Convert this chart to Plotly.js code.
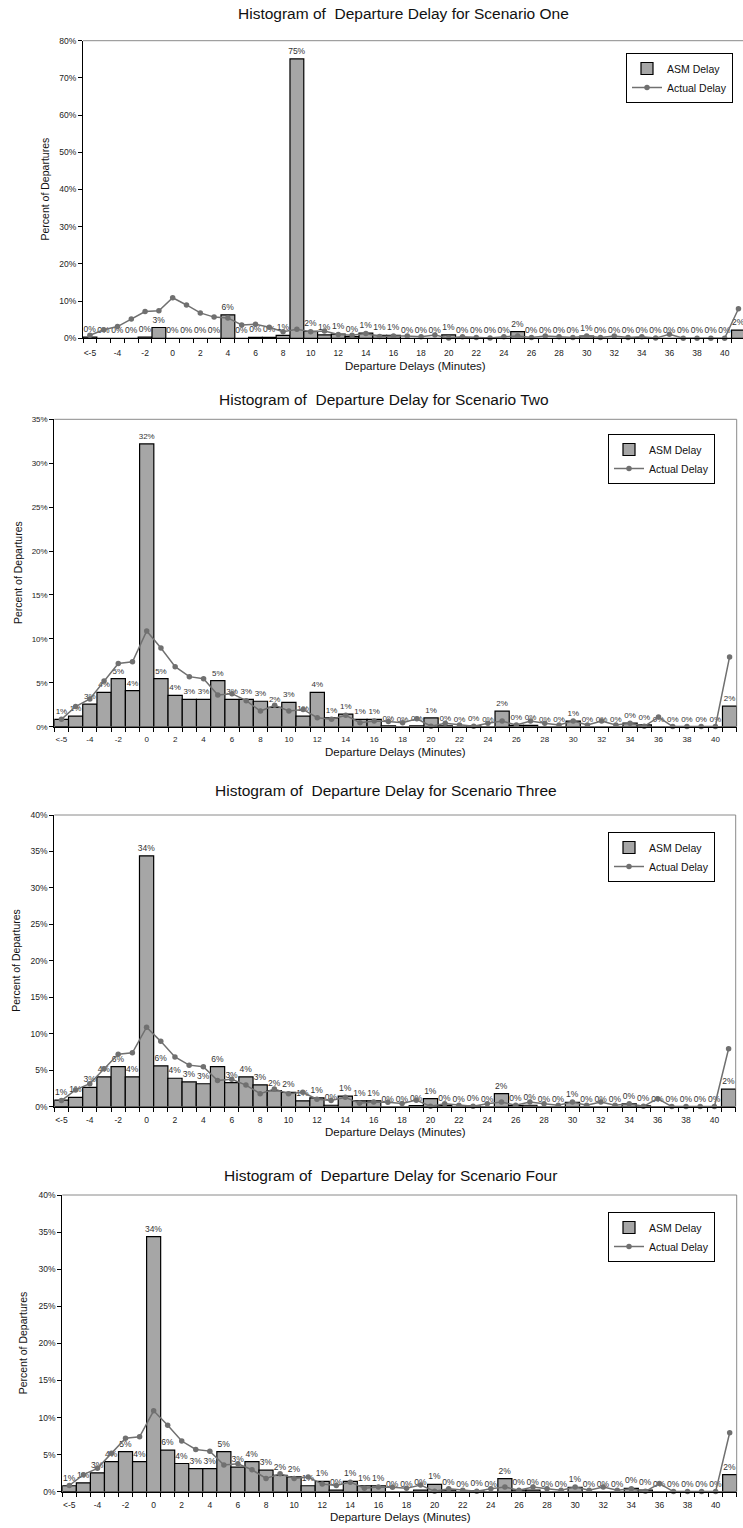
<!DOCTYPE html>
<html>
<head>
<meta charset="utf-8">
<script src="https://cdn.plot.ly/plotly-3.0.1.min.js"></script>
<style>
html,body{margin:0;padding:0;background:#fff;}
#chart{width:743px;height:1528px;}
</style>
</head>
<body>
<div id="chart"></div>
<script>
// ---- Data ----
const categories = ['<-5','-5','-4','-3','-2','-1','0','1','2','3','4','5','6','7','8','9','10',
  '11','12','13','14','15','16','17','18','19','20','21','22','23','24','25','26','27','28','29','30',
  '31','32','33','34','35','36','37','38','39','40','>40'];

const actualDelay = [0.84, 2.3, 3.15, 5.2, 7.2, 7.4, 10.9, 8.96, 6.83, 5.7, 5.47, 3.6, 3.76, 2.96, 1.78, 2.43,
  1.78, 1.97, 1.03, 0.84, 1.29, 0.46, 0.65, 0.6, 0.45, 0.9, 0.05, 0.4, 0.2, 0.05, 0.4, 0.64, 0.2, 0.64,
  0.4, 0.2, 0.64, 0.2, 0.64, 0.2, 0.4, 0.05, 1.1, 0.02, 0.02, 0.02, 0.02, 7.95];

const asmScenarioOne = [0.35, 0, 0, 0, 0.35, 2.9, 0, 0, 0, 0, 6.3, 0, 0.25, 0.25, 0.8, 75.1, 1.9, 0.9, 1.1,
  0.45, 1.4, 0.8, 0.8, 0, 0, 0, 0.9, 0.1, 0, 0.1, 0, 1.8, 0, 0, 0, 0, 0.6, 0, 0, 0, 0.2, 0, 0, 0, 0, 0, 0, 2.2];

const asmScenarioTwo = [0.84, 1.2, 2.58, 3.9, 5.47, 4.1, 32.2, 5.47, 3.57, 3.1, 3.1, 5.24, 3.1, 3.1, 2.9, 2.2,
  2.77, 1.2, 3.9, 1.0, 1.44, 0.84, 0.84, 0.1, 0, 0.1, 1.0, 0.1, 0, 0.1, 0, 1.77, 0.15, 0.15, 0, 0, 0.64,
  0, 0, 0, 0.4, 0.2, 0, 0, 0, 0, 0, 2.34];

const asmScenarioThree = [0.9, 1.28, 2.65, 4.1, 5.5, 4.1, 34.4, 5.6, 3.9, 3.4, 3.15, 5.5, 3.3, 4.1, 3.0, 2.2,
  1.97, 0.8, 1.2, 0.2, 1.46, 0.8, 0.8, 0, 0, 0.15, 1.1, 0.15, 0, 0.1, 0, 1.8, 0.15, 0.2, 0, 0, 0.6,
  0, 0, 0, 0.4, 0.1, 0, 0, 0, 0, 0, 2.4];

const asmScenarioFour = [0.8, 1.2, 2.55, 4.05, 5.4, 4.05, 34.4, 5.6, 3.8, 3.1, 3.1, 5.4, 3.3, 4.05, 2.9, 2.2,
  2.0, 0.8, 1.4, 0.2, 1.4, 0.8, 0.8, 0, 0, 0.2, 1.0, 0.2, 0, 0.1, 0, 1.75, 0.2, 0.2, 0, 0, 0.6,
  0, 0, 0, 0.45, 0.2, 0, 0, 0, 0, 0, 2.3];

const scenarioNames = ['One', 'Two', 'Three', 'Four'];
const asmSeries = [asmScenarioOne, asmScenarioTwo, asmScenarioThree, asmScenarioFour];

// ---- Layout config (positions / styles) ----
const W = 743, H = 1528;
const FONT = 'Liberation Sans, Arial, sans-serif';
const panels = [
  {x0: 83, x1: 743, top: 40.7, bottom: 338.3, ymax: 80, dtick: 10, xmax: 47.33, tick: 8.5, lab: 8.5, tlen: 6,
   titleX: 403, titleY: 14, ytX: 44, xtX: 416, xtY: 366, legX: 626, legY: 53, rightBorder: false},
  {x0: 54.3, x1: 736.7, top: 419.3, bottom: 726.7, ymax: 35, dtick: 5, xmax: 47.5, tick: 8, lab: 8, tlen: 5,
   titleX: 384, titleY: 400, ytX: 18, xtX: 395.5, xtY: 752, legX: 608, legY: 434, rightBorder: true},
  {x0: 54.3, x1: 735.7, top: 815, bottom: 1106.7, ymax: 40, dtick: 5, xmax: 47.5, tick: 8.5, lab: 8.5, tlen: 5,
   titleX: 386, titleY: 790, ytX: 16, xtX: 395, xtY: 1132, legX: 608, legY: 832, rightBorder: true},
  {x0: 62.3, x1: 736.7, top: 1195, bottom: 1491.7, ymax: 40, dtick: 5, xmax: 47.5, tick: 8.5, lab: 8.5, tlen: 5,
   titleX: 390, titleY: 1175, ytX: 23, xtX: 400, xtY: 1517, legX: 608, legY: 1212, rightBorder: true}
];

const xIdx = categories.map((c, i) => i);
const tickVals = xIdx.filter(i => i % 2 === 0);
const tickText = tickVals.map(i => categories[i]);
const boundaries = categories.map((c, i) => i - 0.5).concat([categories.length - 0.5]);

const traces = [];
const layout = {
  width: W, height: H,
  margin: {l: 0, r: 0, t: 0, b: 0},
  paper_bgcolor: '#fff', plot_bgcolor: '#fff',
  font: {family: FONT, color: '#222'},
  showlegend: true,
  bargap: 0,
  annotations: [],
  shapes: []
};

panels.forEach((p, k) => {
  const n = k === 0 ? '' : String(k + 1);
  const xa = 'x' + n, ya = 'y' + n;
  const legName = 'legend' + n;

  traces.push({
    type: 'bar', name: 'ASM Delay', x: xIdx, y: asmSeries[k],
    xaxis: xa, yaxis: ya, legend: legName,
    width: 1,
    marker: {color: '#a6a6a6', line: {color: '#000', width: 1.2}},
    texttemplate: '%{y:.0f}%', textposition: 'outside', constraintext: 'none',
    textfont: {family: FONT, size: p.lab, color: '#333333'},
    outsidetextfont: {family: FONT, size: p.lab, color: '#333333'},
    cliponaxis: true, hoverinfo: 'skip'
  });
  traces.push({
    type: 'scatter', mode: 'lines+markers', name: 'Actual Delay', x: xIdx, y: actualDelay,
    xaxis: xa, yaxis: ya, legend: legName,
    line: {color: '#707070', width: 1.5},
    marker: {color: '#707070', size: 5.5, symbol: 'circle'},
    cliponaxis: false, hoverinfo: 'skip'
  });

  layout['xaxis' + n] = {
    domain: [p.x0 / W, p.x1 / W], anchor: ya,
    range: [-0.5, p.xmax], type: 'linear',
    tickmode: 'array', tickvals: tickVals, ticktext: tickText,
    ticks: 'outside', ticklen: p.tlen, tickcolor: 'rgba(0,0,0,0)',
    minor: {tickmode: 'array', tickvals: boundaries, ticks: 'outside', ticklen: 4, tickwidth: 1, tickcolor: '#000', showgrid: false},
    tickfont: {family: FONT, size: p.tick, color: '#222'},
    showline: true, linecolor: '#000', linewidth: 1,
    showgrid: false, zeroline: false, fixedrange: true
  };
  layout['yaxis' + n] = {
    domain: [1 - p.bottom / H, 1 - p.top / H], anchor: xa,
    range: [0, p.ymax], tickmode: 'linear', tick0: 0, dtick: p.dtick, ticksuffix: '%',
    ticks: 'outside', ticklen: 4, tickwidth: 1, tickcolor: '#000',
    tickfont: {family: FONT, size: p.tick, color: '#222'},
    showline: true, linecolor: '#000', linewidth: 1,
    showgrid: false, zeroline: false, fixedrange: true
  };
  layout[legName] = {
    x: p.legX / W, y: 1 - p.legY / H, xanchor: 'left', yanchor: 'top',
    bgcolor: '#fff', bordercolor: '#000', borderwidth: 1,
    font: {family: FONT, size: 10.5, color: '#111'},
    tracegroupgap: 0, itemwidth: 30
  };

  // plot area top (and right) border
  layout.shapes.push({type: 'line', xref: xa + ' domain', yref: ya + ' domain', x0: 0, x1: 1, y0: 1, y1: 1,
    line: {color: '#8a8a8a', width: 1}, layer: 'below'});
  if (p.rightBorder) {
    layout.shapes.push({type: 'line', xref: xa + ' domain', yref: ya + ' domain', x0: 1, x1: 1, y0: 0, y1: 1,
      line: {color: '#8a8a8a', width: 1}, layer: 'below'});
  }

  // titles
  layout.annotations.push({
    text: 'Histogram of  Departure Delay for Scenario ' + scenarioNames[k],
    xref: 'paper', yref: 'paper', x: p.titleX / W, y: 1 - p.titleY / H,
    xanchor: 'center', yanchor: 'middle', showarrow: false,
    font: {family: FONT, size: 15.5, color: '#111'}
  });
  layout.annotations.push({
    text: 'Percent of Departures', textangle: -90,
    xref: 'paper', yref: 'paper', x: p.ytX / W, y: 1 - ((p.top + p.bottom) / 2) / H,
    xanchor: 'center', yanchor: 'middle', showarrow: false,
    font: {family: FONT, size: 10.5, color: '#111'}
  });
  layout.annotations.push({
    text: 'Departure Delays (Minutes)',
    xref: 'paper', yref: 'paper', x: p.xtX / W, y: 1 - p.xtY / H,
    xanchor: 'center', yanchor: 'middle', showarrow: false,
    font: {family: FONT, size: 11.5, color: '#111'}
  });
});

Plotly.newPlot('chart', traces, layout, {displayModeBar: false, staticPlot: true});
</script>
</body>
</html>
